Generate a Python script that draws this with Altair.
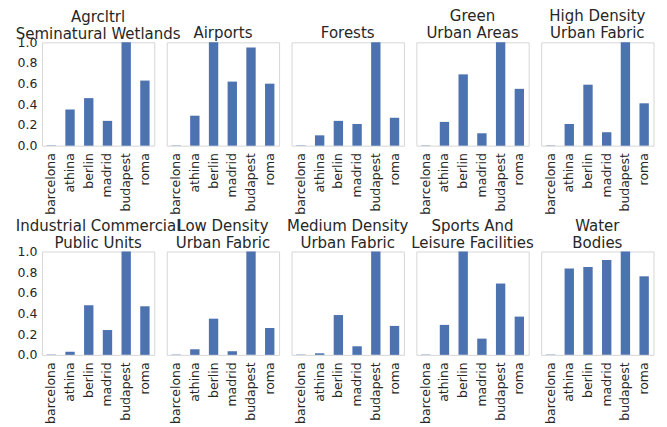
import altair as alt
import pandas as pd

cities = ["barcelona", "athina", "berlin", "madrid", "budapest", "roma"]

titles = [
    ["Agrcltrl", "Seminatural Wetlands"],
    ["Airports"],
    ["Forests"],
    ["Green", "Urban Areas"],
    ["High Density", "Urban Fabric"],
    ["Industrial Commercial", "Public Units"],
    ["Low Density", "Urban Fabric"],
    ["Medium Density", "Urban Fabric"],
    ["Sports And", "Leisure Facilities"],
    ["Water", "Bodies"],
]

agrcltrl = [0.003, 0.35, 0.46, 0.24, 1.0, 0.63]
airports = [0.003, 0.29, 1.0, 0.62, 0.95, 0.60]
forests = [0.003, 0.10, 0.24, 0.21, 1.0, 0.27]
green_urban = [0.003, 0.23, 0.69, 0.12, 1.0, 0.55]
high_density = [0.003, 0.21, 0.59, 0.13, 1.0, 0.41]
industrial = [0.003, 0.03, 0.48, 0.24, 1.0, 0.47]
low_density = [0.003, 0.054, 0.35, 0.035, 1.0, 0.26]
medium_density = [0.003, 0.015, 0.385, 0.083, 1.0, 0.28]
sports = [0.003, 0.29, 1.0, 0.157, 0.69, 0.37]
water = [0.003, 0.836, 0.85, 0.917, 1.0, 0.76]

series = [agrcltrl, airports, forests, green_urban, high_density,
          industrial, low_density, medium_density, sports, water]

BAR = "#4C72B0"
TEXT = "#262626"
FONT = "DejaVu Sans"

panels = []
for i, (t, vals) in enumerate(zip(titles, series)):
    df = pd.DataFrame({"city": cities, "value": vals})
    first_col = (i % 5 == 0)
    yaxis = alt.Axis(title=None, values=[0, 0.2, 0.4, 0.6, 0.8, 1.0], format=".1f",
                     ticks=False, domain=False, grid=False, labelPadding=5) if first_col else None
    ch = alt.Chart(df).mark_bar(color=BAR).encode(
        x=alt.X("city:N", sort=cities,
                scale=alt.Scale(paddingInner=0.5, paddingOuter=0.25),
                axis=alt.Axis(title=None, labelAngle=270, ticks=False, domain=False,
                              grid=False, labelPadding=7)),
        y=alt.Y("value:Q", scale=alt.Scale(domain=[0, 1], nice=False), axis=yaxis),
    ).properties(
        width=112.5, height=103.5,
        title=alt.TitleParams(text=t, anchor="middle", frame="group",
                              offset=(-5.5 if first_col else 1)),
    )
    panels.append(ch)

chart = alt.concat(
    *panels, columns=5, spacing={"row": 105.5, "column": 12}, bounds="flush"
).properties(
    padding={"left": 7, "top": 0, "right": 5, "bottom": 80},
    background="white",
).configure_view(
    stroke="#d6d6d6", strokeWidth=1
).configure_axis(
    labelFont=FONT, labelFontSize=12.5, labelColor=TEXT
).configure_title(
    font=FONT, fontSize=15, fontWeight="normal", color=TEXT, lineHeight=17
)

chart.save("out.html", embed_options={"renderer": "svg", "actions": False})
